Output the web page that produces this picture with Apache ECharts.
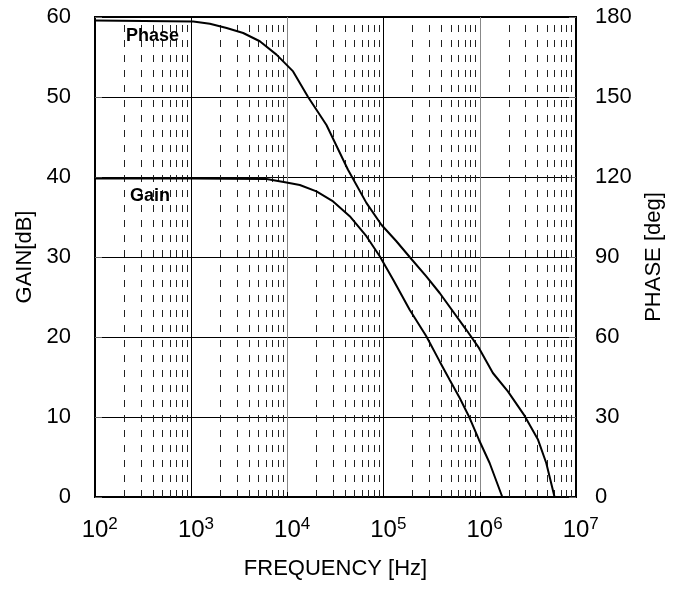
<!DOCTYPE html>
<html>
<head>
<meta charset="utf-8">
<script src="https://cdn.jsdelivr.net/npm/echarts@6/dist/echarts.min.js"></script>
<style>
  html, body { margin: 0; padding: 0; background: #fff; }
  #chart { width: 678px; height: 592px; }
</style>
</head>
<body>
<div id="chart"></div>
<script>
// ---- data ----
const gainFreq = [100, 1000, 6070, 9790, 13460, 20050, 29870, 44460, 66220, 91160, 125400, 186600, 277900, 382700, 485500, 616500, 783000, 979000, 1265000, 1714000];
const gainDb   = [39.8, 39.8, 39.75, 39.3, 39.0, 38.2, 36.95, 35.1, 32.6, 30.1, 27.2, 23.4, 20.1, 16.95, 14.66, 12.4, 9.9, 7.16, 4.25, 0];

const phaseFreq = [100, 1050, 1563, 2334, 3470, 5165, 7700, 11460, 16400, 25470, 42640, 66220, 94800, 135800, 186600, 277900, 382700, 724000, 979000, 1368000, 1958000, 2917000, 4008000, 4906000, 5985000];
const phaseDeg  = [178.7, 178.3, 177.5, 175.9, 174, 170.9, 165.9, 159.6, 150, 139.5, 122.7, 110.3, 102.1, 95.9, 90, 82.7, 76.5, 62.7, 55.9, 46.5, 39.6, 30.5, 21.7, 12.75, 0];

const xDecadeExponents = [2, 3, 4, 5, 6, 7];
const minorMultipliers = [2, 3, 4, 5, 6, 7, 8, 9];
const gainTicks  = [0, 10, 20, 30, 40, 50, 60];
const phaseTicks = [0, 30, 60, 90, 120, 150, 180];

// ---- build ----
const FONT = '"Liberation Sans", Arial, sans-serif';
const gainData = gainFreq.map((f, i) => [f, gainDb[i]]);
const phaseData = phaseFreq.map((f, i) => [f, phaseDeg[i]]);

const minorLines = [];
xDecadeExponents.slice(0, -1).forEach(e => {
  minorMultipliers.forEach(m => minorLines.push({ xAxis: m * Math.pow(10, e) }));
});

const chart = echarts.init(document.getElementById('chart'), null, { renderer: 'canvas' });
chart.setOption({
  animation: false,
  backgroundColor: '#fff',
  textStyle: { fontFamily: FONT },
  grid: {
    left: 95, top: 17, width: 481, height: 480,
    show: true, borderColor: '#000', borderWidth: 2, backgroundColor: 'transparent'
  },
  xAxis: {
    type: 'log', logBase: 10,
    min: Math.pow(10, xDecadeExponents[0]),
    max: Math.pow(10, xDecadeExponents[xDecadeExponents.length - 1]),
    name: 'FREQUENCY [Hz]', nameLocation: 'middle', nameGap: 61,
    nameTextStyle: { fontSize: 22, color: '#000', fontFamily: FONT },
    axisLine: { show: true, lineStyle: { color: '#000', width: 2 } },
    axisTick: { show: true, inside: true, length: 5, lineStyle: { color: '#000' } },
    axisLabel: {
      margin: 19,
      padding: [0, 0, 0, 9.5],
      formatter: v => '{b|10}{s|' + Math.round(Math.log10(v)) + '}',
      rich: {
        b: { fontSize: 24, lineHeight: 28, color: '#000', fontFamily: FONT },
        s: { fontSize: 17, lineHeight: 17, color: '#000', verticalAlign: 'top', fontFamily: FONT }
      }
    },
    splitLine: { show: true, lineStyle: { color: ['#000', '#000', '#888', '#000', '#888', '#000'], width: 1 } }
  },
  yAxis: [
    {
      type: 'value', min: gainTicks[0], max: gainTicks[gainTicks.length - 1], interval: 10,
      name: 'GAIN[dB]', nameLocation: 'middle', nameGap: 58,
      nameTextStyle: { fontSize: 22, color: '#000', fontFamily: FONT },
      axisLine: { show: true, lineStyle: { color: '#000', width: 2 } },
      axisTick: { show: true, inside: true, length: 7, lineStyle: { color: '#666' } },
      axisLabel: { fontSize: 22, color: '#000', margin: 24, fontFamily: FONT },
      splitLine: { show: true, lineStyle: { color: '#000', width: 1 } }
    },
    {
      type: 'value', min: phaseTicks[0], max: phaseTicks[phaseTicks.length - 1], interval: 30,
      position: 'right',
      name: 'PHASE [deg]', nameLocation: 'middle', nameGap: 65,
      nameTextStyle: { fontSize: 22, color: '#000', fontFamily: FONT },
      axisLine: { show: true, lineStyle: { color: '#000', width: 2 } },
      axisTick: { show: true, inside: true, length: 7, lineStyle: { color: '#666' } },
      axisLabel: { fontSize: 22, color: '#000', margin: 19, fontFamily: FONT },
      splitLine: { show: false }
    }
  ],
  series: [
    {
      name: 'Gain', type: 'line', yAxisIndex: 0, data: gainData,
      showSymbol: false, symbol: 'none',
      lineStyle: { color: '#000', width: 2 },
      z: 5,
      markLine: {
        silent: true, symbol: ['none', 'none'], animation: false,
        label: { show: false },
        lineStyle: { color: '#222', width: 1, type: [7, 8] },
        data: minorLines,
        z: 1
      }
    },
    {
      name: 'Phase', type: 'line', yAxisIndex: 1, data: phaseData,
      showSymbol: false, symbol: 'none',
      lineStyle: { color: '#000', width: 2 },
      z: 5
    }
  ],
  graphic: [
    { type: 'text', x: 126, y: 36, style: { text: 'Phase', font: 'bold 18px ' + FONT, fill: '#000', verticalAlign: 'middle' }, z: 10 },
    { type: 'text', x: 130, y: 196, style: { text: 'Gain', font: 'bold 18px ' + FONT, fill: '#000', verticalAlign: 'middle' }, z: 10 }
  ]
});
</script>
</body>
</html>
